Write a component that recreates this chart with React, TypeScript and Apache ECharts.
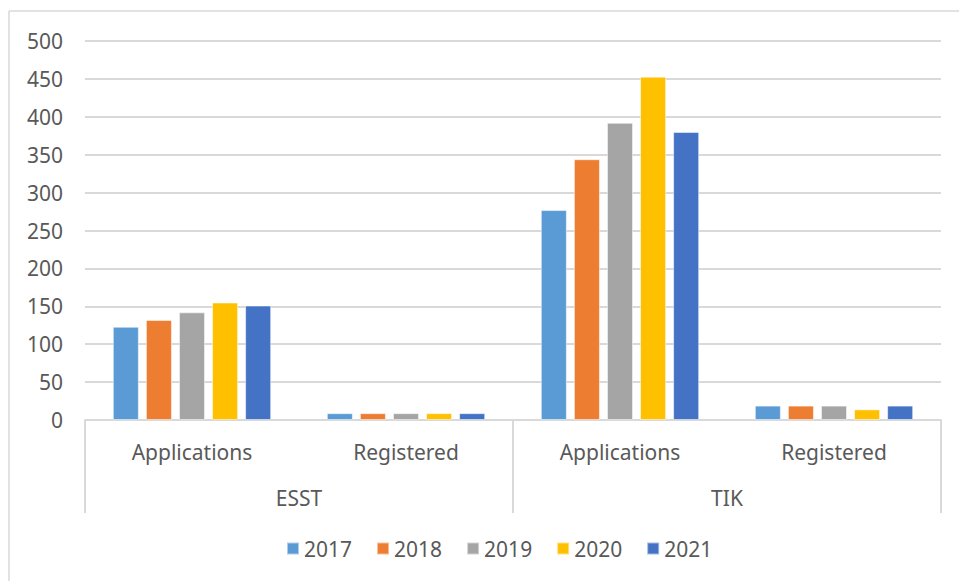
import React, { useEffect, useRef } from "react";
import * as echarts from "echarts";

const innerCategories = ["Applications", "Registered", "Applications", "Registered"];
const groupCategories = ["ESST", "TIK"];
const years = ["2017", "2018", "2019", "2020", "2021"];
const values2017 = [123, 9, 277, 19];
const values2018 = [132, 9, 344, 19];
const values2019 = [142, 9, 392, 19];
const values2020 = [155, 9, 453, 14];
const values2021 = [151, 9, 380, 19];
const yTicks = { min: 0, max: 500, interval: 50 };

const seriesValues = [values2017, values2018, values2019, values2020, values2021];
const colors = ["#5B9BD5", "#ED7D31", "#A5A5A5", "#FFC000", "#4472C4"];
const FONT = "Noto Sans";
const TEXT = "#595959";
const LINE = "#d9d9d9";

export default function App() {
  const ref = useRef<HTMLDivElement>(null);
  useEffect(() => {
    if (!ref.current) return;
    const chart = echarts.init(ref.current, undefined, { renderer: "svg" });
    chart.setOption({
      animation: false,
      backgroundColor: "#ffffff",
      color: colors,
      textStyle: { fontFamily: FONT },
      grid: { left: 85, right: 18, top: 41, bottom: 161, containLabel: false },
      legend: {
        data: years,
        bottom: 17,
        left: 281,
        itemWidth: 12,
        itemHeight: 12,
        itemGap: 24,
        icon: "rect",
        textStyle: { color: TEXT, fontSize: 21, fontFamily: FONT },
      },
      xAxis: [
        {
          type: "category",
          data: innerCategories,
          position: "bottom",
          axisLine: { show: true, lineStyle: { color: LINE, width: 2 } },
          axisTick: { show: false },
          axisLabel: { color: TEXT, fontSize: 21, margin: 21, fontFamily: FONT },
          splitLine: { show: false },
        },
        {
          type: "category",
          data: groupCategories,
          position: "bottom",
          axisLine: { show: false },
          axisTick: { show: true, length: 93, alignWithLabel: false, lineStyle: { color: LINE, width: 2 } },
          axisLabel: { color: TEXT, fontSize: 21, margin: 67, fontFamily: FONT },
          splitLine: { show: false },
        },
      ],
      yAxis: {
        type: "value",
        min: yTicks.min,
        max: yTicks.max,
        interval: yTicks.interval,
        axisLine: { show: false },
        axisTick: { show: false },
        axisLabel: { color: TEXT, fontSize: 21, margin: 22, fontFamily: FONT },
        splitLine: { lineStyle: { color: LINE, width: 2 } },
      },
      series: years.map((y, i) => ({
        name: y,
        type: "bar",
        xAxisIndex: 0,
        data: seriesValues[i],
        barGap: "27%",
        barCategoryGap: "26%",
        itemStyle: { color: colors[i], borderColor: "rgba(255,255,255,0.5)", borderWidth: 1 },
      })),
      graphic: [
        { type: "line", shape: { x1: 9, y1: 11, x2: 959, y2: 11 }, style: { stroke: LINE, lineWidth: 1.5 }, silent: true },
        { type: "line", shape: { x1: 9, y1: 11, x2: 9, y2: 581 }, style: { stroke: LINE, lineWidth: 1.5 }, silent: true },
      ],
    });
    return () => chart.dispose();
  }, []);
  return <div ref={ref} style={{ width: 959, height: 581, position: "absolute", left: 0, top: 0 }} />;
}
